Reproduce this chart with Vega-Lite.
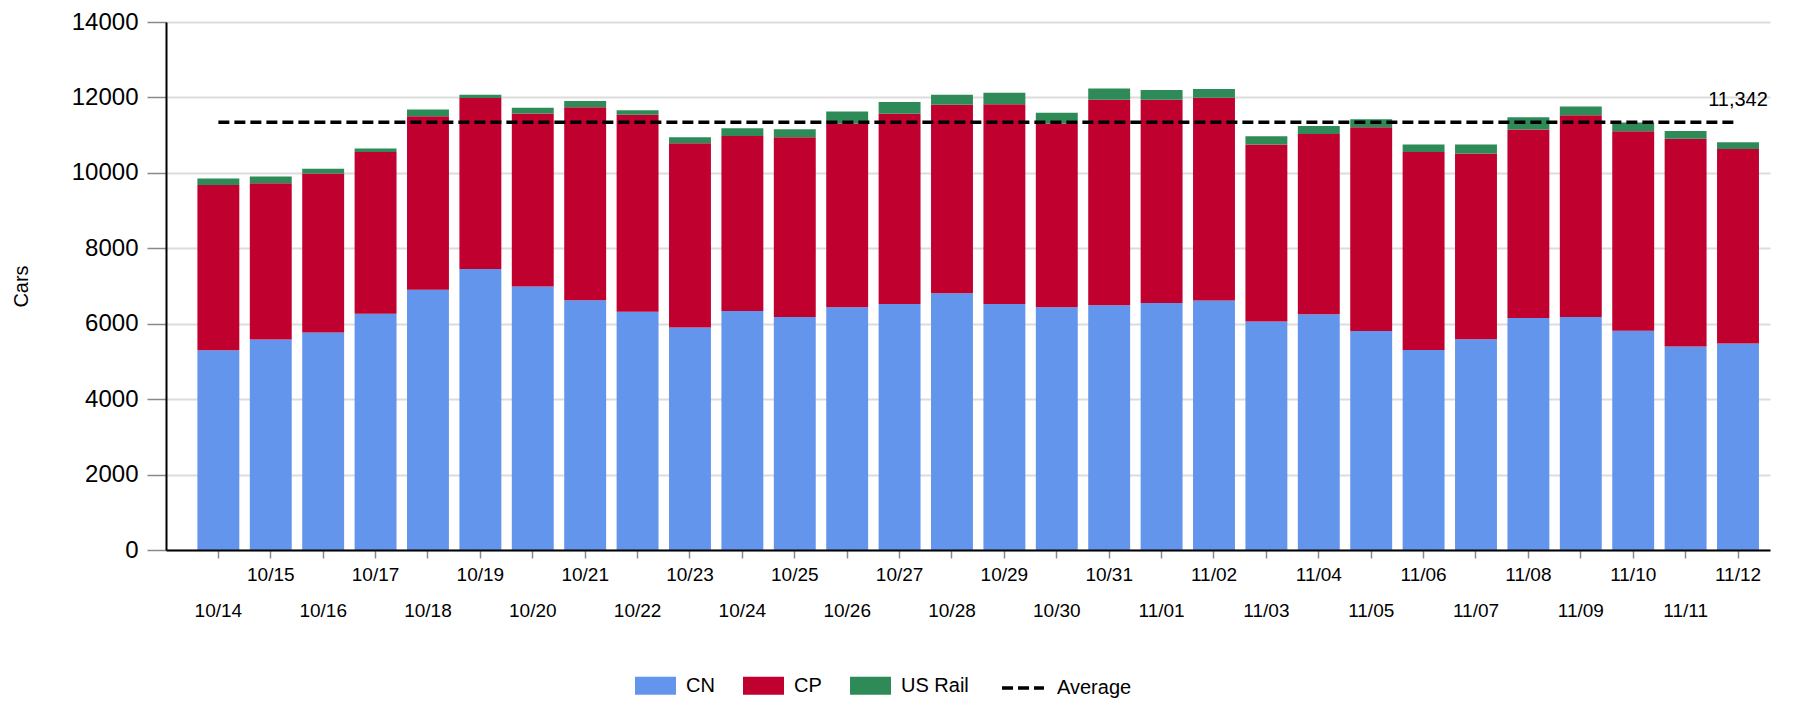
{
  "$schema": "https://vega.github.io/schema/vega-lite/v6.json",
  "width": 1604,
  "height": 528,
  "autosize": {"type": "none"},
  "padding": {"left": 166, "top": 22, "right": 31, "bottom": 152},
  "background": "white",
  "config": {
    "font": "Liberation Sans",
    "view": {"stroke": null},
    "legend": {"labelFont": "Liberation Sans", "labelColor": "black"}
  },
  "datasets": {
    "bars": [
      {"date": "10/14", "carrier": "CN", "cars": 5297}, {"date": "10/14", "carrier": "CP", "cars": 4383}, {"date": "10/14", "carrier": "US Rail", "cars": 169},
      {"date": "10/15", "carrier": "CN", "cars": 5582}, {"date": "10/15", "carrier": "CP", "cars": 4142}, {"date": "10/15", "carrier": "US Rail", "cars": 178},
      {"date": "10/16", "carrier": "CN", "cars": 5769}, {"date": "10/16", "carrier": "CP", "cars": 4213}, {"date": "10/16", "carrier": "US Rail", "cars": 124},
      {"date": "10/17", "carrier": "CN", "cars": 6266}, {"date": "10/17", "carrier": "CP", "cars": 4285}, {"date": "10/17", "carrier": "US Rail", "cars": 98},
      {"date": "10/18", "carrier": "CN", "cars": 6898}, {"date": "10/18", "carrier": "CP", "cars": 4604}, {"date": "10/18", "carrier": "US Rail", "cars": 178},
      {"date": "10/19", "carrier": "CN", "cars": 7449}, {"date": "10/19", "carrier": "CP", "cars": 4533}, {"date": "10/19", "carrier": "US Rail", "cars": 89},
      {"date": "10/20", "carrier": "CN", "cars": 6987}, {"date": "10/20", "carrier": "CP", "cars": 4586}, {"date": "10/20", "carrier": "US Rail", "cars": 151},
      {"date": "10/21", "carrier": "CN", "cars": 6622}, {"date": "10/21", "carrier": "CP", "cars": 5120}, {"date": "10/21", "carrier": "US Rail", "cars": 160},
      {"date": "10/22", "carrier": "CN", "cars": 6320}, {"date": "10/22", "carrier": "CP", "cars": 5218}, {"date": "10/22", "carrier": "US Rail", "cars": 124},
      {"date": "10/23", "carrier": "CN", "cars": 5902}, {"date": "10/23", "carrier": "CP", "cars": 4880}, {"date": "10/23", "carrier": "US Rail", "cars": 160},
      {"date": "10/24", "carrier": "CN", "cars": 6338}, {"date": "10/24", "carrier": "CP", "cars": 4640}, {"date": "10/24", "carrier": "US Rail", "cars": 204},
      {"date": "10/25", "carrier": "CN", "cars": 6178}, {"date": "10/25", "carrier": "CP", "cars": 4764}, {"date": "10/25", "carrier": "US Rail", "cars": 213},
      {"date": "10/26", "carrier": "CN", "cars": 6435}, {"date": "10/26", "carrier": "CP", "cars": 4872}, {"date": "10/26", "carrier": "US Rail", "cars": 320},
      {"date": "10/27", "carrier": "CN", "cars": 6524}, {"date": "10/27", "carrier": "CP", "cars": 5040}, {"date": "10/27", "carrier": "US Rail", "cars": 312},
      {"date": "10/28", "carrier": "CN", "cars": 6809}, {"date": "10/28", "carrier": "CP", "cars": 4995}, {"date": "10/28", "carrier": "US Rail", "cars": 267},
      {"date": "10/29", "carrier": "CN", "cars": 6524}, {"date": "10/29", "carrier": "CP", "cars": 5298}, {"date": "10/29", "carrier": "US Rail", "cars": 302},
      {"date": "10/30", "carrier": "CN", "cars": 6435}, {"date": "10/30", "carrier": "CP", "cars": 4872}, {"date": "10/30", "carrier": "US Rail", "cars": 284},
      {"date": "10/31", "carrier": "CN", "cars": 6489}, {"date": "10/31", "carrier": "CP", "cars": 5449}, {"date": "10/31", "carrier": "US Rail", "cars": 302},
      {"date": "11/01", "carrier": "CN", "cars": 6551}, {"date": "11/01", "carrier": "CP", "cars": 5387}, {"date": "11/01", "carrier": "US Rail", "cars": 258},
      {"date": "11/02", "carrier": "CN", "cars": 6613}, {"date": "11/02", "carrier": "CP", "cars": 5378}, {"date": "11/02", "carrier": "US Rail", "cars": 231},
      {"date": "11/03", "carrier": "CN", "cars": 6062}, {"date": "11/03", "carrier": "CP", "cars": 4693}, {"date": "11/03", "carrier": "US Rail", "cars": 214},
      {"date": "11/04", "carrier": "CN", "cars": 6249}, {"date": "11/04", "carrier": "CP", "cars": 4782}, {"date": "11/04", "carrier": "US Rail", "cars": 213},
      {"date": "11/05", "carrier": "CN", "cars": 5810}, {"date": "11/05", "carrier": "CP", "cars": 5399}, {"date": "11/05", "carrier": "US Rail", "cars": 213},
      {"date": "11/06", "carrier": "CN", "cars": 5306}, {"date": "11/06", "carrier": "CP", "cars": 5245}, {"date": "11/06", "carrier": "US Rail", "cars": 204},
      {"date": "11/07", "carrier": "CN", "cars": 5590}, {"date": "11/07", "carrier": "CP", "cars": 4925}, {"date": "11/07", "carrier": "US Rail", "cars": 240},
      {"date": "11/08", "carrier": "CN", "cars": 6150}, {"date": "11/08", "carrier": "CP", "cars": 4997}, {"date": "11/08", "carrier": "US Rail", "cars": 329},
      {"date": "11/09", "carrier": "CN", "cars": 6177}, {"date": "11/09", "carrier": "CP", "cars": 5352}, {"date": "11/09", "carrier": "US Rail", "cars": 231},
      {"date": "11/10", "carrier": "CN", "cars": 5813}, {"date": "11/10", "carrier": "CP", "cars": 5289}, {"date": "11/10", "carrier": "US Rail", "cars": 231},
      {"date": "11/11", "carrier": "CN", "cars": 5395}, {"date": "11/11", "carrier": "CP", "cars": 5512}, {"date": "11/11", "carrier": "US Rail", "cars": 204},
      {"date": "11/12", "carrier": "CN", "cars": 5475}, {"date": "11/12", "carrier": "CP", "cars": 5156}, {"date": "11/12", "carrier": "US Rail", "cars": 178}
    ],
    "avg": [
      {"date": "10/14", "avg": 11342, "series": "Average"},
      {"date": "11/12", "avg": 11342, "series": "Average"}
    ]
  },
  "layer": [
    {
      "data": {"name": "bars"},
      "mark": {"type": "bar"},
      "encoding": {
        "x": {
          "field": "date",
          "type": "ordinal",
          "sort": null,
          "scale": {
            "domain": ["10/14","10/15","10/16","10/17","10/18","10/19","10/20","10/21","10/22","10/23","10/24","10/25","10/26","10/27","10/28","10/29","10/30","10/31","11/01","11/02","11/03","11/04","11/05","11/06","11/07","11/08","11/09","11/10","11/11","11/12"],
            "paddingInner": 0.2,
            "paddingOuter": 0.405,
            "align": 0.74
          },
          "axis": {
            "title": null,
            "labelAngle": 0,
            "labelFontSize": 19,
            "labelColor": "black",
            "labelFont": "Liberation Sans",
            "tickColor": "#888888",
            "tickSize": 8,
            "tickWidth": 1.5,
            "domainColor": "black",
            "domainWidth": 2,
            "grid": false,
            "zindex": 1,
            "labelPadding": {
              "condition": {"test": "indexof(domain('x'), datum.value) % 2 === 1", "value": 7},
              "value": 43
            }
          }
        },
        "y": {
          "field": "cars",
          "type": "quantitative",
          "stack": "zero",
          "scale": {"domain": [0, 14000], "nice": false},
          "axis": {
            "title": "Cars",
            "titleFontSize": 20,
            "titleFontWeight": "normal",
            "titleColor": "black",
            "titleFont": "Liberation Sans",
            "titlePadding": 40,
            "labelFontSize": 24,
            "labelColor": "black",
            "labelFont": "Liberation Sans",
            "format": "d",
            "values": [0, 2000, 4000, 6000, 8000, 10000, 12000, 14000],
            "tickSize": 19,
            "tickColor": "#888888",
            "tickWidth": 1.5,
            "labelPadding": 9,
            "domainColor": "black",
            "domainWidth": 2,
            "grid": true,
            "gridColor": "#dcdcdc",
            "gridWidth": 2
          }
        },
        "color": {
          "field": "carrier",
          "type": "nominal",
          "scale": {"domain": ["CN", "CP", "US Rail"], "range": ["#6495ED", "#C0002F", "#2E8B57"]},
          "legend": {
            "orient": "none",
            "legendX": 469,
            "legendY": 643,
            "direction": "horizontal",
            "title": null,
            "symbolType": "M-1,-0.44H1V0.44H-1Z",
            "symbolSize": 1681,
            "symbolStrokeWidth": 0,
            "labelFontSize": 20,
            "labelOffset": 10,
            "columnPadding": 28,
            "padding": 0
          }
        },
        "order": {"field": "carrier", "sort": "ascending"}
      }
    },
    {
      "data": {"name": "avg"},
      "mark": {"type": "line", "strokeWidth": 3.5, "color": "black"},
      "encoding": {
        "x": {"field": "date", "type": "ordinal", "sort": null},
        "y": {"field": "avg", "type": "quantitative"},
        "strokeDash": {
          "field": "series",
          "type": "nominal",
          "scale": {"domain": ["Average"], "range": [[11, 5]]},
          "legend": {
            "orient": "none",
            "legendX": 834,
            "legendY": 643,
            "title": null,
            "symbolSize": 1764,
            "symbolStrokeWidth": 3.5,
            "symbolStrokeColor": "black",
            "labelFontSize": 20,
            "labelOffset": 11,
            "padding": 0
          }
        }
      }
    },
    {
      "data": {"name": "avg"},
      "transform": [{"filter": "datum.date === '11/12'"}],
      "mark": {"type": "text", "dy": -16, "baseline": "alphabetic", "align": "center", "fontSize": 20, "color": "black", "font": "Liberation Sans"},
      "encoding": {
        "x": {"field": "date", "type": "ordinal", "sort": null},
        "y": {"field": "avg", "type": "quantitative"},
        "text": {"field": "avg", "type": "quantitative", "format": ","}
      }
    }
  ]
}
